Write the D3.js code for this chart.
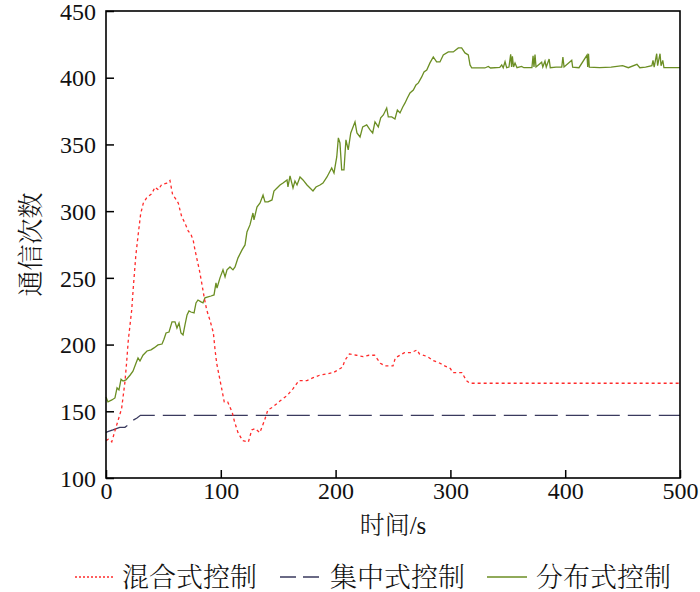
<!DOCTYPE html>
<html><head><meta charset="utf-8">
<script src="https://cdn.jsdelivr.net/npm/d3@7"></script>
<style>
body{margin:0;background:#fff;}
svg{display:block;}
</style></head>
<body>
<svg id="chart" width="700" height="592"></svg>
<script>
// ---- data ----
const xTicks = [0, 100, 200, 300, 400, 500];
const yTicks = [100, 150, 200, 250, 300, 350, 400, 450];
const seriesNames = ["混合式控制", "集中式控制", "分布式控制"];
const xLabel = "时间/s";
const yLabel = "通信次数";

// 混合式控制 [time, count]
const hybrid = [[0,128],[2,129],[5,127],[8,136],[10.5,143],[13.6,152],[16.5,172],[18,187],[19.4,203],[22.4,226],[23.8,243],[25.9,266],[28.1,283],[30.2,298],[32.5,306],[35.4,310],[39.8,313],[42.7,318],[45.6,316],[48.5,320],[52.9,321],[55.7,323],[58.1,312],[60.1,310],[63,306],[64.4,301],[65.9,296],[68.8,291],[71.7,285],[73.8,283],[76,278],[77.5,271],[79.5,263],[81.3,256],[83.4,246],[85.4,236],[87.7,226],[90.6,218],[93.5,209],[95,196],[96.4,186],[98,179],[101,166],[103,157],[106,157],[110,149],[112,142],[115,134],[119,128],[124,127],[127,136],[130,137],[134,134],[138,143],[141,151],[145,153],[152,158],[158,162],[163,167],[168,173],[175,173],[180,175],[186,177],[192,178],[198,179],[202,181],[206,183],[208,188],[212,193],[218,192],[224,191],[229,192],[234,192],[239,186],[243,184],[250,184],[252,190],[256,192],[260,194],[266,194],[271,196],[273,193],[280,191],[285,188],[291,186],[295,184],[300,182],[302,179],[310,179],[314,173],[317,171],[500,171]];

// 集中式控制
const central = [[0,134],[1,134.5],[6,136],[12,138],[16.5,138],[18,139],[23,143],[27,145],[30,147],[500,147]];

// 分布式控制
const distributed = [[0,160.7],[1.7,157],[5.1,158.5],[7.8,160],[9.6,167.5],[11.3,166],[13.1,174],[14.8,172.7],[17.4,173.5],[20.9,177],[23.5,180],[26.1,186],[27.9,190],[29.6,187.7],[32.2,192],[35.7,195.2],[39.2,196],[41.8,197.5],[45.3,199.7],[48.8,200.4],[50.5,204],[52.3,208.7],[54.9,209.4],[57.5,217],[60.1,217],[61.8,212.4],[63.6,216.2],[65.3,208.7],[67.1,207.2],[68.8,214.7],[70.6,222.2],[72.3,225.2],[74,224.4],[76.7,223.7],[78.4,231.2],[80.1,233.4],[82.8,232],[84.5,231.2],[86.2,235],[88.9,235.7],[91.5,236.4],[94.1,237.2],[95.8,246.2],[96.7,242.4],[99.3,250],[101.9,256],[103.7,250.7],[105.4,256],[108,258.2],[110.6,256],[112.4,258.2],[115,265],[118.5,271],[121.1,274.7],[122.8,284.4],[125.4,289.7],[128,298.6],[128.9,293.4],[131.5,303.1],[134.2,306.1],[136.8,312.1],[138.5,306.9],[141.1,306.9],[144.6,308.4],[146.3,315.1],[149,317.4],[151.6,319.6],[154.2,321.1],[157.7,323.4],[158.5,318.1],[160.3,326.4],[162.9,317.4],[164.6,322.6],[166.4,319.6],[169,325.6],[171.6,323.4],[175.1,319.6],[177.7,317.4],[180.3,315.1],[182.9,318.1],[186.4,319.6],[189,321.1],[192.5,325.6],[194.3,328.6],[196.6,332.4],[198.6,328.6],[201,340.6],[202.4,354.9],[203.8,351.1],[205.3,330.9],[207.3,330.9],[209,353.4],[211,345.9],[213.2,358.6],[215.2,363.1],[216.9,366.9],[218.6,358.6],[221.3,355.6],[223.6,363.1],[227.1,364.6],[230,360.9],[232.3,358.6],[234.3,366.9],[237.2,363.1],[239.3,369.9],[241.6,372.1],[244.5,377.3],[245.9,370.6],[248.9,370.6],[251.7,369.1],[253.8,375.8],[256.1,373.6],[258.5,378.1],[260.5,381.1],[262.5,384.8],[264.8,388.6],[267.7,390.8],[270,394.6],[272.1,396.1],[275,400.6],[277,404.3],[279.4,405.8],[282.2,411.1],[285.1,415.6],[288,411.8],[290.9,411.8],[293.8,417.1],[298.2,419.3],[302.5,419.3],[306.9,422.3],[309.8,422.3],[312.7,418.6],[315.6,417.1],[317.1,409.6],[318.6,407.3],[330,407.3],[333,408.5],[335,407.3],[343,407.8],[344.7,409.6],[346,407.5],[347.6,412],[349,407.5],[351,408],[352.5,417.5],[353.3,408],[354,416],[355,408],[356.3,411],[358,407.5],[362,408.5],[364,407.5],[371,407.5],[372,416.5],[372.8,408],[373.7,417.3],[374.6,408],[379.5,411.6],[380.5,408],[382.4,412.5],[383.5,408],[386,414],[387,407.5],[392,408],[397,408],[398,415.5],[399,408],[405.7,413],[406.5,408],[412,407.5],[419,417],[419.6,408],[420.3,418],[421,408],[430,407.5],[440,408],[450,409],[455,407.5],[462.5,410],[465,407.5],[470,408],[475.5,409],[476.5,413],[477.5,408],[479.7,418],[480.5,409],[482.6,418],[483.5,409],[485,413],[486,407.5],[500,407.5]];

// ---- layout ----
const svg = d3.select("#chart");
const m = {left:106, top:11, right:680, bottom:478};
const x = d3.scaleLinear().domain([0,500]).range([m.left, m.right]);
const y = d3.scaleLinear().domain([100,450]).range([m.bottom, m.top]);
const numFont = "'Times New Roman','Liberation Serif',serif";
const cjkFont = "'Times New Roman','Liberation Serif','Noto Serif CJK SC','Noto Sans CJK SC',serif";

const colors = ["#ff2a2a", "#3a3a5e", "#6b8e23"];
const dashes = ["3,3", "23,8", null];
const datasets = [hybrid, central, distributed];

const line = d3.line().x(d=>x(d[0])).y(d=>y(d[1]));

[2,1,0].forEach(i=>{
  svg.append("path").datum(datasets[i])
    .attr("d", line).attr("fill","none")
    .attr("stroke", colors[i]).attr("stroke-width", 1.3)
    .attr("stroke-dasharray", dashes[i]);
});

// axes
const xAxis = d3.axisBottom(x).tickValues(xTicks).tickSizeInner(-8).tickSizeOuter(0).tickPadding(10);
const yAxis = d3.axisLeft(y).tickValues(yTicks).tickSizeInner(-8).tickSizeOuter(0).tickPadding(10);
const gx = svg.append("g").attr("transform",`translate(0,${m.bottom})`).call(xAxis);
const gy = svg.append("g").attr("transform",`translate(${m.left},0)`).call(yAxis);
[gx,gy].forEach(g=>{
  g.selectAll("path.domain").remove();
  g.selectAll(".tick line").attr("stroke","#000").attr("stroke-width",1.5);
  g.selectAll(".tick text").attr("font-family",numFont).attr("font-size",24).attr("fill","#111");
});
gx.selectAll(".tick text").attr("dy","0.45em");
gy.selectAll(".tick text").attr("dy","0.34em");

// frame
svg.append("rect").attr("x",m.left).attr("y",m.top)
  .attr("width",m.right-m.left).attr("height",m.bottom-m.top)
  .attr("fill","none").attr("stroke","#000").attr("stroke-width",1.6);

// axis titles
svg.append("text").attr("x",(m.left+m.right)/2).attr("y",534)
  .attr("text-anchor","middle").attr("font-family",cjkFont).attr("font-size",25).attr("font-weight",300).attr("fill","#111")
  .text(xLabel);
svg.append("text").attr("transform",`translate(40,${(m.top+m.bottom)/2}) rotate(-90)`)
  .attr("text-anchor","middle").attr("font-family",cjkFont).attr("font-size",26).attr("font-weight",300).attr("fill","#111")
  .text(yLabel);

// legend
const legX = [[75,113,122],[280,320,330],[487,527,536]];
const legY = 577;
seriesNames.forEach((name,i)=>{
  const [x1,x2,tx] = legX[i];
  svg.append("line").attr("x1",x1).attr("x2",x2).attr("y1",legY).attr("y2",legY)
    .attr("stroke",colors[i]).attr("stroke-width",1.3)
    .attr("stroke-dasharray", i===0 ? "2,2" : (i===1 ? "16,7" : null));
  svg.append("text").attr("x",tx).attr("y",legY).attr("dy","0.36em")
    .attr("font-family",cjkFont).attr("font-size",27).attr("font-weight",300).attr("fill","#111")
    .text(name);
});
</script>
</body></html>
